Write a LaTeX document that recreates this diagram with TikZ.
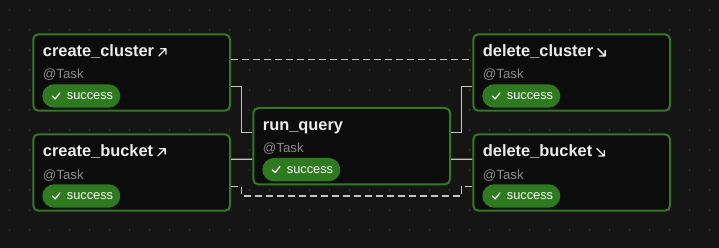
\documentclass[tikz,border=0pt]{standalone}
\usepackage{fontspec}
\setmainfont{Liberation Sans}
\usetikzlibrary{calc,backgrounds}
\definecolor{bgcol}{RGB}{21,21,21}
\definecolor{boxfill}{RGB}{12,12,12}
\definecolor{boxgreen}{RGB}{48,122,32}
\definecolor{badgegreen}{RGB}{46,122,30}
\definecolor{titlecol}{RGB}{236,236,236}
\definecolor{subcol}{RGB}{138,138,138}
\definecolor{edgecol}{RGB}{196,196,196}
\definecolor{dotcol}{RGB}{74,74,74}
\pgfdeclarelayer{edges}
\pgfsetlayers{background,edges,main}
\tikzset{
  taskbox/.style={draw=boxgreen, fill=boxfill, line width=2pt, rounded corners=5pt,
    minimum width=196.7pt, minimum height=76.4pt, inner sep=0pt},
  tasktitle/.style={anchor=base west, inner sep=0pt, text=titlecol,
    font=\fontsize{16.4}{16}\selectfont\bfseries},
  tasksub/.style={anchor=base west, inner sep=0pt, text=subcol,
    font=\fontsize{13.3}{14}\selectfont},
  badge/.style={fill=badgegreen, rounded corners=11.7pt, minimum width=78pt,
    minimum height=23.4pt, inner sep=0pt, anchor=north west, outer sep=0pt},
  badgetext/.style={anchor=base west, inner sep=0pt, text=white,
    font=\fontsize{12.8}{13}\selectfont},
  checkstroke/.style={draw=white, line width=1.2pt, line cap=round, line join=round},
  linkicon/.style={draw=titlecol, line width=1.3pt, line cap=round, line join=round},
  solidedge/.style={draw=edgecol, line width=1.3pt},
  dashededge/.style={draw=edgecol, line width=1.3pt, dash pattern=on 7pt off 4pt},
  upicon/.pic={\draw[linkicon] (0,-0.5) -- (7.3,-7.8) (1.8,-7.8) -- (7.3,-7.8) -- (7.3,-2.3);},
  downicon/.pic={\draw[linkicon] (0,-7.8) -- (7.3,-0.5) (1.8,-0.5) -- (7.3,-0.5) -- (7.3,-6);},
}
\newcommand{\taskcard}[4]{%
  \node[taskbox] (#1) at (#2,#3) {};
  \node[tasktitle] (#1-title) at ($(#1.north west)+(10.4,23.2)$) {#4};
  \node[tasksub] (#1-sub) at ($(#1.north west)+(10.4,45.7)$) {@Task};
  \node[badge] (#1-badge) at ($(#1.north west)+(10,51)$) {};
  \draw[checkstroke] ($(#1-badge.north west)+(9.9,11.8)$) -- ($(#1-badge.north west)+(12.9,14.6)$) -- ($(#1-badge.north west)+(17.6,8.6)$);
  \node[badgetext] (#1-status) at ($(#1-badge.north west)+(24.4,15.4)$) {success};
}
\begin{document}
\begin{tikzpicture}[x=1pt,y=-1pt]
  \useasboundingbox (0,0) rectangle (719,248);
  \begin{pgfonlayer}{background}
    \fill[bgcol] (0,0) rectangle (719,248);
    \foreach \i in {0,...,35} {
      \foreach \j in {0,...,11} {
        \fill[dotcol] (9.3+20*\i,10+20*\j) circle (0.7);
      }
    }
  \end{pgfonlayer}
  \taskcard{cc}{131.65}{72.5}{create\_cluster}
  \taskcard{dc}{571.65}{72.5}{delete\_cluster}
  \taskcard{cb}{131.65}{172.5}{create\_bucket}
  \taskcard{db}{571.65}{172.5}{delete\_bucket}
  \taskcard{rq}{351.65}{146.15}{run\_query}
  \pic at ($(cc-title.base east)+(4.4,0)$) {upicon};
  \pic at ($(cb-title.base east)+(4.4,0)$) {upicon};
  \pic at ($(dc-title.base east)+(4.4,0)$) {downicon};
  \pic at ($(db-title.base east)+(4.4,0)$) {downicon};
  \begin{pgfonlayer}{edges}
    \draw[dashededge] ($(cc.east)+(0,-13.2)$) -- ($(dc.west)+(0,-13.2)$);
    \draw[solidedge] ($(cc.east)+(0,14.2)$) -- ++(10.7,0) |- ($(rq.west)+(0,-13.45)$);
    \draw[solidedge] ($(rq.east)+(0,-13.45)$) -- ++(10.3,0) |- ($(dc.west)+(0,14.2)$);
    \draw[solidedge] ($(cb.east)+(0,-13.2)$) -- ($(rq.west)+(0,13.15)$);
    \draw[solidedge] ($(rq.east)+(0,13.15)$) -- ($(db.west)+(0,-13.2)$);
    \draw[dashededge] ($(cb.east)+(0,14.2)$) -- ++(10.7,0) -- ++(0,9.3) -| ($(db.west)+(-11,14.2)$) -- ($(db.west)+(0,14.2)$);
  \end{pgfonlayer}
\end{tikzpicture}
\end{document}
